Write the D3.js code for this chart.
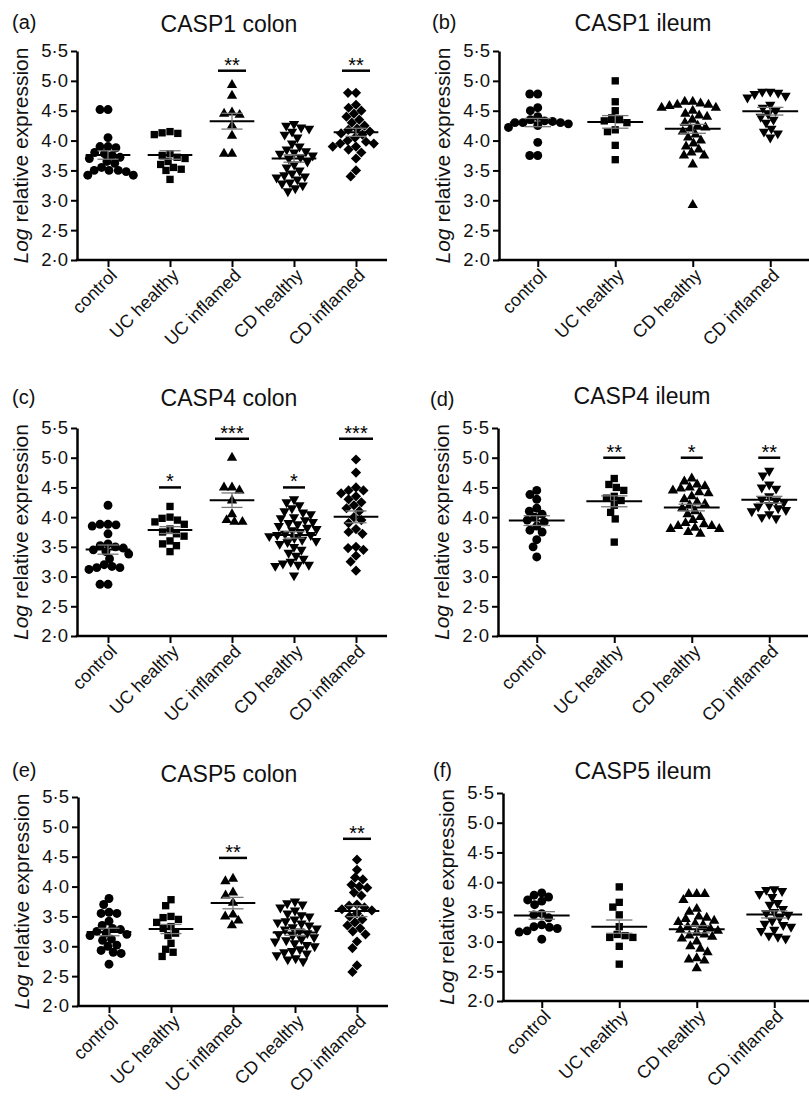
<!DOCTYPE html>
<html>
<head>
<meta charset="utf-8">
<script src="https://cdn.jsdelivr.net/npm/d3@7"></script>
<style>
  body { margin: 0; background: #fff; }
  svg { display: block; font-family: "Liberation Sans", Arial, sans-serif; }
</style>
</head>
<body>
<div id="chart"></div>
<script>
// categories
const colonGroups = ['control', 'UC healthy', 'UC inflamed', 'CD healthy', 'CD inflamed'];
const ileumGroups = ['control', 'UC healthy', 'CD healthy', 'CD inflamed'];
const yTicks = [2.0, 2.5, 3.0, 3.5, 4.0, 4.5, 5.0, 5.5];

// values (log relative expression), one array per group
const casp1Colon = [
  [4.52, 4.52, 4.05, 3.9, 3.9, 3.88, 3.8, 3.78, 3.75, 3.72, 3.7, 3.65, 3.62, 3.55, 3.5, 3.5, 3.5, 3.48, 3.42, 3.42],
  [4.15, 4.13, 4.12, 4.1, 3.72, 3.78, 3.75, 3.7, 3.65, 3.6, 3.55, 3.52, 3.5, 3.35],
  [4.93, 4.75, 4.47, 4.45, 4.43, 4.25, 4.08, 3.78, 3.78],
  [4.28, 4.25, 4.22, 4.2, 4.15, 4.1, 4.05, 3.95, 3.9, 3.85, 3.82, 3.8, 3.78, 3.75, 3.72, 3.7, 3.65, 3.6, 3.55, 3.5, 3.45, 3.42, 3.4, 3.38, 3.35, 3.3, 3.28, 3.25, 3.2, 3.15],
  [4.8, 4.8, 4.6, 4.55, 4.5, 4.45, 4.4, 4.35, 4.3, 4.25, 4.2, 4.18, 4.15, 4.12, 4.1, 4.05, 4.0, 3.98, 3.95, 3.9, 3.85, 3.95, 3.9, 3.8, 3.7, 3.5, 3.4]
];
const casp1Ileum = [
  [4.78, 4.78, 4.55, 4.5, 4.4, 4.35, 4.32, 4.3, 4.3, 4.28, 4.25, 4.22, 4.3, 4.33, 3.97, 3.75, 3.75],
  [5.0, 4.65, 4.5, 4.38, 4.35, 4.33, 4.3, 4.15, 4.18, 3.92, 3.68],
  [4.65, 4.65, 4.62, 4.6, 4.6, 4.58, 4.55, 4.55, 4.5, 4.45, 4.42, 4.4, 4.35, 4.3, 4.25, 4.22, 4.2, 4.15, 4.1, 4.05, 4.0, 3.95, 3.9, 3.85, 3.8, 3.75, 3.75, 3.6, 2.92],
  [4.82, 4.82, 4.8, 4.78, 4.75, 4.72, 4.6, 4.55, 4.5, 4.45, 4.4, 4.35, 4.3, 4.2, 4.15, 4.12, 4.05]
];
const casp4Colon = [
  [4.2, 3.88, 3.88, 3.87, 3.85, 3.72, 3.55, 3.52, 3.5, 3.48, 3.45, 3.42, 3.38, 3.3, 3.2, 3.17, 3.15, 3.15, 3.12, 2.87, 2.87],
  [4.18, 4.0, 3.98, 3.95, 3.92, 3.88, 3.8, 3.75, 3.72, 3.68, 3.6, 3.55, 3.52, 3.42],
  [5.0, 4.5, 4.5, 4.45, 4.28, 4.05, 3.95, 3.92, 3.92],
  [4.3, 4.25, 4.2, 4.15, 4.1, 4.08, 4.05, 4.0, 3.98, 3.95, 3.92, 3.9, 3.88, 3.85, 3.82, 3.8, 3.78, 3.75, 3.72, 3.7, 3.7, 3.68, 3.65, 3.62, 3.6, 3.58, 3.55, 3.5, 3.45, 3.4, 3.35, 3.3, 3.25, 3.22, 3.2, 3.2, 3.18, 3.02],
  [4.97, 4.75, 4.5, 4.45, 4.45, 4.4, 4.35, 4.3, 4.25, 4.2, 4.15, 4.1, 4.0, 3.95, 3.9, 3.8, 3.75, 3.72, 3.5, 3.48, 3.45, 3.35, 3.25, 3.1]
];
const casp4Ileum = [
  [4.45, 4.38, 4.3, 4.15, 4.1, 4.05, 4.0, 3.95, 3.92, 3.85, 3.78, 3.75, 3.62, 3.5, 3.33],
  [4.65, 4.55, 4.5, 4.45, 4.35, 4.32, 4.28, 4.2, 4.08, 3.97, 3.58],
  [4.65, 4.6, 4.55, 4.52, 4.5, 4.48, 4.45, 4.42, 4.4, 4.35, 4.3, 4.25, 4.22, 4.2, 4.15, 4.1, 4.05, 4.0, 3.95, 3.9, 3.88, 3.85, 3.85, 3.82, 3.8, 3.8, 3.75, 3.72],
  [4.78, 4.7, 4.55, 4.5, 4.48, 4.35, 4.3, 4.28, 4.25, 4.2, 4.18, 4.15, 4.12, 4.1, 4.05, 4.0, 3.98]
];
const casp5Colon = [
  [3.8, 3.7, 3.57, 3.55, 3.55, 3.42, 3.35, 3.3, 3.28, 3.25, 3.22, 3.2, 3.18, 3.12, 3.1, 3.02, 3.0, 2.93, 2.9, 2.88, 2.7],
  [3.78, 3.68, 3.5, 3.48, 3.45, 3.4, 3.33, 3.3, 3.22, 3.18, 3.05, 2.95, 2.9, 2.83],
  [4.13, 4.09, 3.9, 3.85, 3.73, 3.53, 3.5, 3.43, 3.35],
  [3.75, 3.72, 3.7, 3.65, 3.6, 3.55, 3.52, 3.5, 3.45, 3.42, 3.4, 3.38, 3.35, 3.32, 3.3, 3.28, 3.25, 3.22, 3.2, 3.18, 3.15, 3.12, 3.1, 3.08, 3.05, 3.02, 3.0, 2.95, 2.92, 2.9, 2.88, 2.85, 2.8, 2.78, 2.75],
  [4.45, 4.28, 4.15, 4.12, 4.03, 4.0, 3.98, 3.9, 3.85, 3.6, 3.7, 3.68, 3.65, 3.62, 3.55, 3.5, 3.45, 3.4, 3.35, 3.3, 3.25, 3.2, 3.08, 2.97, 2.68, 2.57]
];
const casp5Ileum = [
  [3.82, 3.78, 3.75, 3.7, 3.68, 3.62, 3.47, 3.45, 3.4, 3.28, 3.25, 3.24, 3.22, 3.18, 3.16, 3.04],
  [3.92, 3.66, 3.58, 3.45, 3.25, 3.12, 3.1, 3.07, 3.07, 2.92, 2.62],
  [3.8, 3.8, 3.8, 3.7, 3.55, 3.5, 3.42, 3.4, 3.38, 3.35, 3.33, 3.3, 3.28, 3.25, 3.22, 3.2, 3.18, 3.15, 3.12, 3.1, 3.08, 3.05, 3.0, 2.92, 2.88, 2.82, 2.72, 2.7, 2.68, 2.55],
  [3.88, 3.87, 3.85, 3.8, 3.75, 3.65, 3.62, 3.55, 3.5, 3.48, 3.45, 3.4, 3.35, 3.3, 3.28, 3.25, 3.2, 3.18, 3.1, 3.08, 3.05]
];

// significance vs control: stars and the level of the bar
const casp1ColonStars = ['', '', '**', '', '**'];
const casp1ColonBar = [null, null, 5.17, null, 5.17];
const casp1IleumStars = ['', '', '', ''];
const casp1IleumBar = [null, null, null, null];
const casp4ColonStars = ['', '*', '***', '*', '***'];
const casp4ColonBar = [null, 4.5, 5.32, 4.5, 5.32];
const casp4IleumStars = ['', '**', '*', '**'];
const casp4IleumBar = [null, 5.0, 5.0, 5.0];
const casp5ColonStars = ['', '', '**', '', '**'];
const casp5ColonBar = [null, null, 4.48, null, 4.8];
const casp5IleumStars = ['', '', '', ''];
const casp5IleumBar = [null, null, null, null];

const colonSymbols = ['circle', 'square', 'triangle', 'triangleDown', 'diamond'];
const ileumSymbols = ['circle', 'square', 'triangle', 'triangleDown'];

// panel layout
const panels = [
  {tag: '(a)', title: 'CASP1 colon', groups: colonGroups, values: casp1Colon, stars: casp1ColonStars, bars: casp1ColonBar, symbols: colonSymbols,
   x0: 77, x1: 387, yTop: 51, yBot: 260, titleX: 229, titleY: 32, tagX: 12, tagY: 29},
  {tag: '(b)', title: 'CASP1 ileum', groups: ileumGroups, values: casp1Ileum, stars: casp1IleumStars, bars: casp1IleumBar, symbols: ileumSymbols,
   x0: 499, x1: 809, yTop: 51, yBot: 260, titleX: 643, titleY: 31, tagX: 432, tagY: 29},
  {tag: '(c)', title: 'CASP4 colon', groups: colonGroups, values: casp4Colon, stars: casp4ColonStars, bars: casp4ColonBar, symbols: colonSymbols,
   x0: 77, x1: 387, yTop: 428, yBot: 636, titleX: 229, titleY: 406, tagX: 12, tagY: 404},
  {tag: '(d)', title: 'CASP4 ileum', groups: ileumGroups, values: casp4Ileum, stars: casp4IleumStars, bars: casp4IleumBar, symbols: ileumSymbols,
   x0: 498, x1: 808, yTop: 428, yBot: 636, titleX: 642, titleY: 404, tagX: 430, tagY: 406},
  {tag: '(e)', title: 'CASP5 colon', groups: colonGroups, values: casp5Colon, stars: casp5ColonStars, bars: casp5ColonBar, symbols: colonSymbols,
   x0: 78, x1: 388, yTop: 797, yBot: 1006, titleX: 229, titleY: 782, tagX: 12, tagY: 777},
  {tag: '(f)', title: 'CASP5 ileum', groups: ileumGroups, values: casp5Ileum, stars: casp5IleumStars, bars: casp5IleumBar, symbols: ileumSymbols,
   x0: 503, x1: 813, yTop: 793, yBot: 1001, titleX: 643, titleY: 779, tagX: 433, tagY: 777}
];

const width = 809;
const height = 1097;

const svg = d3.select('#chart').append('svg')
  .attr('width', width)
  .attr('height', height)
  .style('background', '#fff');

const symbolPath = {
  circle: d3.symbol(d3.symbolCircle, 62)(),
  square: d3.symbol(d3.symbolSquare, 54)(),
  triangle: d3.symbol(d3.symbolTriangle, 46)(),
  triangleDown: d3.symbol(d3.symbolTriangle, 46)(),
  diamond: d3.symbol(d3.symbolSquare, 52)()
};
const symbolRotate = {circle: 0, square: 0, triangle: 0, triangleDown: 180, diamond: 45};

// simple beeswarm so that points of one group do not overlap
function swarm(values, y, D) {
  const pts = values.map(v => ({v, y: y(v), x: 0})).sort((a, b) => a.y - b.y);
  const placed = [];
  for (const p of pts) {
    const near = placed.filter(q => Math.abs(q.y - p.y) < D);
    const cands = [0];
    near.forEach(q => {
      const dx = Math.sqrt(D * D - (q.y - p.y) ** 2);
      cands.push(q.x - dx, q.x + dx);
    });
    cands.sort((a, b) => Math.abs(a) - Math.abs(b));
    for (const c of cands) {
      if (near.every(q => (q.x - c) ** 2 + (q.y - p.y) ** 2 >= D * D - 0.01)) { p.x = c; break; }
    }
    placed.push(p);
  }
  return placed;
}

const fmt = d => d3.format('.1f')(d).replace('.', '\u00b7');

panels.forEach(p => {
  const g = svg.append('g');

  const x = d3.scalePoint().domain(p.groups).range([p.x0, p.x1]).padding(0.5);
  const y = d3.scaleLinear().domain([2, 5.5]).range([p.yBot, p.yTop]);
  const step = x.step();

  // titles
  g.append('text')
    .attr('x', p.titleX).attr('y', p.titleY)
    .attr('text-anchor', 'middle')
    .style('font-size', '23px')
    .attr('fill', '#111')
    .text(p.title);
  g.append('text')
    .attr('x', p.tagX).attr('y', p.tagY)
    .style('font-size', '20px')
    .attr('fill', '#111')
    .text(p.tag);

  // y axis
  const yAxis = g.append('g')
    .attr('transform', `translate(${p.x0},0)`)
    .call(d3.axisLeft(y).tickValues(yTicks).tickFormat(fmt).tickSize(6).tickSizeOuter(0).tickPadding(3));
  yAxis.select('.domain').attr('stroke-width', 2.5);
  yAxis.selectAll('.tick line').attr('stroke-width', 2);
  yAxis.selectAll('.tick text').style('font-size', '18.5px').attr('font-family', null).attr('fill', '#111');

  // x axis
  const xAxis = g.append('g')
    .attr('transform', `translate(0,${p.yBot})`)
    .call(d3.axisBottom(x).tickSize(7).tickSizeOuter(0));
  xAxis.select('.domain').attr('stroke-width', 2.5).attr('d', `M${p.x0 - 1.25},0H${p.x1}`);
  xAxis.selectAll('.tick line').attr('stroke-width', 2);
  xAxis.selectAll('.tick text')
    .style('font-size', '18px')
    .attr('font-family', null)
    .attr('fill', '#111')
    .attr('text-anchor', 'end')
    .attr('y', 0).attr('dy', '0.35em')
    .attr('transform', 'translate(5,12) rotate(-45)');

  // y label
  const yl = g.append('text')
    .attr('transform', `translate(${p.x0 - 49},${(p.yTop + p.yBot) / 2}) rotate(-90)`)
    .attr('text-anchor', 'middle')
    .attr('fill', '#111')
    .style('font-size', '21px');
  yl.append('tspan').style('font-style', 'italic').text('Log');
  yl.append('tspan').text(' relative expression');

  // points, mean and SEM
  p.groups.forEach((grp, i) => {
    const vals = p.values[i];
    const cx = x(grp);
    const pts = swarm(vals, y, 8);
    const sym = p.symbols[i];
    g.append('g').selectAll('path')
      .data(pts)
      .join('path')
      .attr('d', symbolPath[sym])
      .attr('transform', d => `translate(${cx + d.x},${d.y}) rotate(${symbolRotate[sym]})`)
      .attr('fill', '#000');

    const m = d3.mean(vals);
    const sem = d3.deviation(vals) / Math.sqrt(vals.length);
    const mw = step * 0.36;
    const ew = step * 0.17;
    g.append('line')
      .attr('x1', cx - mw).attr('x2', cx + mw)
      .attr('y1', y(m)).attr('y2', y(m))
      .attr('stroke', '#000').attr('stroke-width', 2);
    const eb = g.append('g').attr('stroke', '#777').attr('stroke-width', 1.3);
    eb.append('line').attr('x1', cx).attr('x2', cx).attr('y1', y(m + sem)).attr('y2', y(m - sem));
    [m + sem, m - sem].forEach(v => {
      eb.append('line').attr('x1', cx - ew).attr('x2', cx + ew).attr('y1', y(v)).attr('y2', y(v));
    });

    // significance
    if (p.stars[i]) {
      const n = p.stars[i].length;
      const bw = (p.groups.length === 4 ? 22 : 16 + 6 * n) / 2;
      const by = y(p.bars[i]);
      g.append('line')
        .attr('x1', cx - bw).attr('x2', cx + bw)
        .attr('y1', by).attr('y2', by)
        .attr('stroke', '#000').attr('stroke-width', 2.5);
      g.append('text')
        .attr('x', cx).attr('y', by + 1)
        .attr('text-anchor', 'middle')
        .style('font-size', '20px')
        .text(p.stars[i]);
    }
  });
});
</script>
</body>
</html>
